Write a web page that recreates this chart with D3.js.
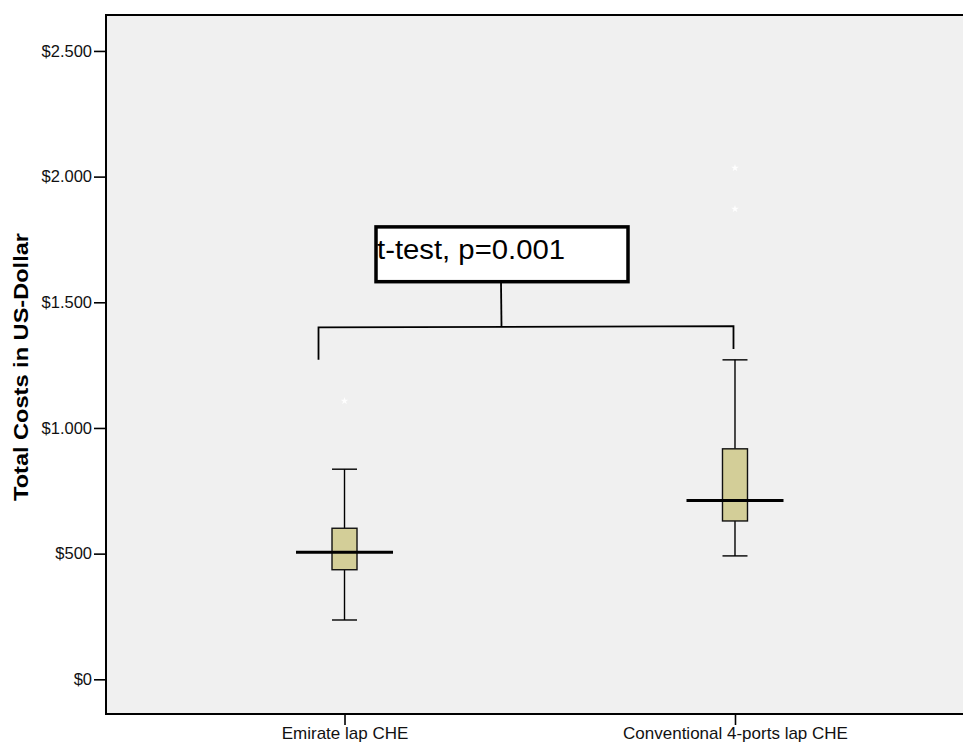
<!DOCTYPE html>
<html>
<head>
<meta charset="utf-8">
<script src="https://cdn.jsdelivr.net/npm/d3@7"></script>
<style>
  html, body { margin: 0; padding: 0; background: #ffffff; }
  svg { display: block; font-family: Arial, "Liberation Sans", sans-serif; }
</style>
</head>
<body>
<svg id="chart" width="963" height="744"></svg>
<script>
// ---- data ----
const categories = ["Emirate lap CHE", "Conventional 4-ports lap CHE"];
const whiskerLow  = [236, 491];
const q1          = [436, 630];
const medians     = [506, 711];
const q3          = [601, 917];
const whiskerHigh = [836, 1271];
const outliers    = [[1107], [2034, 1871]];
const yTickValues = [0, 500, 1000, 1500, 2000, 2500];
const yTickLabels = ["$0", "$500", "$1.000", "$1.500", "$2.000", "$2.500"];
const yTitle = "Total Costs in US-Dollar";
const testLabel = "t-test, p=0.001";
// bracket annotation values (in dollars)
const bracketTop = [1400, 1405];
const bracketLegBottom = [1271, 1314];
const labelBoxRange = [1582, 1800];

const svg = d3.select("#chart");
const plotLeft = 106, plotTop = 15, plotBottom = 714, plotRight = 973.5;

const y = d3.scaleLinear().domain([-138, 2643]).range([plotBottom, plotTop]);
const x = d3.scalePoint().domain(categories).range([plotLeft, plotRight]).padding(0.6108);

// plot background
svg.append("rect")
  .attr("x", plotLeft).attr("y", plotTop)
  .attr("width", plotRight - plotLeft).attr("height", plotBottom - plotTop)
  .attr("fill", "#f0f0f0");

// frame lines (top, left, bottom)
svg.append("path")
  .attr("d", `M${plotRight},${plotTop}H${plotLeft}V${plotBottom}H${plotRight}`)
  .attr("fill", "none").attr("stroke", "#000").attr("stroke-width", 2);

// y axis
const yAxis = d3.axisLeft(y)
  .tickValues(yTickValues)
  .tickFormat((d, i) => yTickLabels[i])
  .tickSize(11).tickPadding(2);
const gy = svg.append("g").attr("transform", `translate(${plotLeft - 1},0)`).call(yAxis);
gy.select(".domain").remove();
gy.selectAll(".tick line").attr("stroke", "#000").attr("stroke-width", 1.6);
gy.selectAll(".tick text").attr("font-size", 16.5).attr("fill", "#111")
  .attr("font-family", "Arial, 'Liberation Sans', sans-serif");

// x axis
const xAxis = d3.axisBottom(x).tickSize(11).tickPadding(3);
const gx = svg.append("g").attr("transform", `translate(0,${plotBottom})`).call(xAxis);
gx.select(".domain").remove();
gx.selectAll(".tick line").attr("stroke", "#000").attr("stroke-width", 1.6);
gx.selectAll(".tick text").attr("font-size", 17).attr("fill", "#111")
  .attr("font-family", "Arial, 'Liberation Sans', sans-serif")
  .attr("dy", "0.62em");

// y title
svg.append("text")
  .attr("transform", "translate(28,367) rotate(-90)")
  .attr("text-anchor", "middle")
  .attr("font-size", 21).attr("font-weight", "bold").attr("fill", "#000")
  .attr("textLength", 268).attr("lengthAdjust", "spacingAndGlyphs")
  .text(yTitle);

// boxplots
const boxW = 25, medW = 97, capW = 25;
const g = svg.append("g");
categories.forEach((c, i) => {
  const cx = x(c);
  // whiskers
  g.append("line").attr("x1", cx).attr("x2", cx)
    .attr("y1", y(whiskerHigh[i])).attr("y2", y(q3[i]))
    .attr("stroke", "#000").attr("stroke-width", 1.4);
  g.append("line").attr("x1", cx).attr("x2", cx)
    .attr("y1", y(q1[i])).attr("y2", y(whiskerLow[i]))
    .attr("stroke", "#000").attr("stroke-width", 1.4);
  // caps
  [whiskerHigh[i], whiskerLow[i]].forEach(v => {
    g.append("line").attr("x1", cx - capW / 2).attr("x2", cx + capW / 2)
      .attr("y1", y(v)).attr("y2", y(v))
      .attr("stroke", "#000").attr("stroke-width", 1.4);
  });
  // box
  g.append("rect")
    .attr("x", cx - boxW / 2).attr("y", y(q3[i]))
    .attr("width", boxW).attr("height", y(q1[i]) - y(q3[i]))
    .attr("fill", "#d3ce98").attr("stroke", "#111").attr("stroke-width", 1.4);
  // median
  g.append("line").attr("x1", cx - medW / 2).attr("x2", cx + medW / 2)
    .attr("y1", y(medians[i])).attr("y2", y(medians[i]))
    .attr("stroke", "#000").attr("stroke-width", 3);
  // outliers (faint white stars)
  outliers[i].forEach(v => {
    g.append("path")
      .attr("d", d3.symbol(d3.symbolStar, 18)())
      .attr("transform", `translate(${cx},${y(v)})`)
      .attr("fill", "#ffffff").attr("opacity", 0.9);
  });
});

// bracket annotation
const xl = x(categories[0]) - 26, xr = x(categories[1]) - 1.5;
const xm = 501;
svg.append("path")
  .attr("d", `M${xl},${y(bracketLegBottom[0])}L${xl},${y(bracketTop[0])}L${xr},${y(bracketTop[1])}L${xr},${y(bracketLegBottom[1])}`)
  .attr("fill", "none").attr("stroke", "#000").attr("stroke-width", 1.8);
svg.append("line")
  .attr("x1", xm).attr("x2", xm + 0.5)
  .attr("y1", y(labelBoxRange[0])).attr("y2", y(bracketTop[0] + 5))
  .attr("stroke", "#000").attr("stroke-width", 1.8);
svg.append("rect")
  .attr("x", 376).attr("y", y(labelBoxRange[1]))
  .attr("width", 252).attr("height", y(labelBoxRange[0]) - y(labelBoxRange[1]))
  .attr("fill", "#ffffff").attr("stroke", "#000").attr("stroke-width", 3.5);
svg.append("text")
  .attr("x", 377).attr("y", 259)
  .attr("font-size", 27.5).attr("fill", "#000")
  .attr("textLength", 188).attr("lengthAdjust", "spacingAndGlyphs")
  .text(testLabel);
</script>
</body>
</html>
